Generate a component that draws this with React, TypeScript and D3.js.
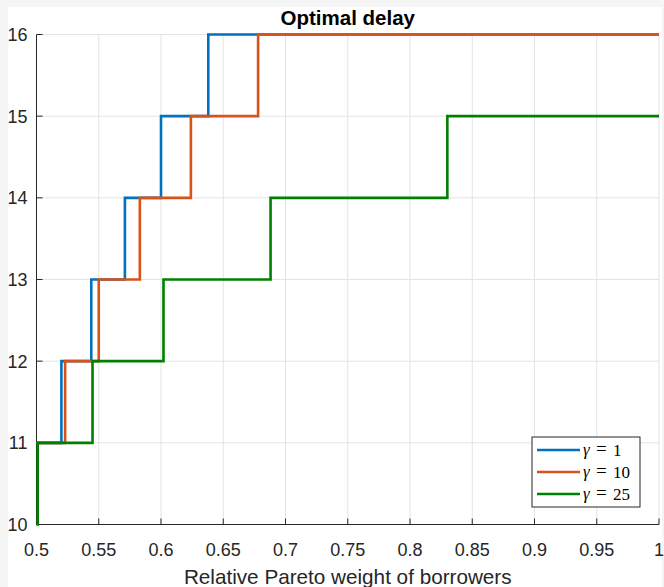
import React from "react";
import * as d3 from "d3";

// Pareto-weight breakpoints and the optimal delay reached after each one
const weights1 = [0.5, 0.52, 0.544, 0.571, 0.6, 0.638, 1.0];
const delay1 = [11, 12, 13, 14, 15, 16, 16];
const weights10 = [0.5, 0.523, 0.55, 0.583, 0.624, 0.678, 1.0];
const delay10 = [11, 12, 13, 14, 15, 16, 16];
const weights25 = [0.5, 0.501, 0.545, 0.602, 0.688, 0.83, 1.0];
const delay25 = [10, 11, 12, 13, 14, 15, 15];

const gammaLabels = ["1", "10", "25"];
const xTicks = [0.5, 0.55, 0.6, 0.65, 0.7, 0.75, 0.8, 0.85, 0.9, 0.95, 1];
const yTicks = [10, 11, 12, 13, 14, 15, 16];

const W = 664;
const H = 587;
const left = 36.5;
const right = 659;
const top = 34.5;
const bottom = 524.5;

const colors = ["#0072BD", "#D95319", "#008000"];
const axisColor = "#262626";
const gridColor = "#e3e3e3";
const sans = "Arial, 'Liberation Sans', Helvetica, sans-serif";
const serif = "'Liberation Serif', 'DejaVu Serif', serif";

export default function App() {
  const x = d3.scaleLinear().domain([0.5, 1]).range([left, right]);
  const y = d3.scaleLinear().domain([10, 16]).range([bottom, top]);

  const line = d3
    .line<[number, number]>()
    .x((d) => x(d[0]))
    .y((d) => y(d[1]))
    .curve(d3.curveStepAfter);

  const series = [
    d3.zip(weights1, delay1) as [number, number][],
    d3.zip(weights10, delay10) as [number, number][],
    d3.zip(weights25, delay25) as [number, number][],
  ];

  const fmt = (v: number) => (v === 1 ? "1" : String(+v.toFixed(2)));

  const legX = 532;
  const legY = 437;
  const legW = 108;
  const legH = 70;

  return (
    <svg
      width={W}
      height={H}
      style={{ position: "absolute", left: 0, top: 0, display: "block" }}
    >
      <rect x={0} y={0} width={W} height={H} fill="#f5f5f5" />
      <rect x={8} y={7} width={W - 10} height={H - 7} fill="#ffffff" />

      {/* grid */}
      <g stroke={gridColor} strokeWidth={1}>
        {xTicks.map((t) => (
          <line key={"gx" + t} x1={x(t)} x2={x(t)} y1={top} y2={bottom} />
        ))}
        {yTicks.map((t) => (
          <line key={"gy" + t} x1={left} x2={right} y1={y(t)} y2={y(t)} />
        ))}
      </g>

      {/* axes */}
      <g stroke={axisColor} strokeWidth={1}>
        <line x1={left} x2={left} y1={top} y2={bottom} />
        <line x1={left} x2={right} y1={bottom} y2={bottom} />
        {xTicks.map((t) => (
          <line key={"tx" + t} x1={x(t)} x2={x(t)} y1={bottom} y2={bottom - 6} />
        ))}
        {yTicks.map((t) => (
          <line key={"ty" + t} x1={left} x2={left + 6} y1={y(t)} y2={y(t)} />
        ))}
      </g>

      <g fontFamily={sans} fontSize={18} fill={axisColor}>
        {xTicks.map((t) => (
          <text key={"lx" + t} x={x(t)} y={bottom + 31} textAnchor="middle">
            {fmt(t)}
          </text>
        ))}
        {yTicks.map((t) => (
          <text key={"ly" + t} x={left - 9} y={y(t) + 6.5} textAnchor="end">
            {t}
          </text>
        ))}
      </g>

      {/* step lines */}
      <g fill="none" strokeWidth={2.6} strokeLinejoin="miter">
        {series.map((s, i) => (
          <path key={"s" + i} d={line(s) ?? ""} stroke={colors[i]} />
        ))}
      </g>

      <text
        x={(left + right) / 2}
        y={25}
        textAnchor="middle"
        fontFamily={sans}
        fontWeight="bold"
        fontSize={20.5}
        fill="#000"
      >
        Optimal delay
      </text>

      <text
        x={(left + right) / 2}
        y={584}
        textAnchor="middle"
        fontFamily={sans}
        fontSize={20.7}
        fill={axisColor}
      >
        Relative Pareto weight of borrowers
      </text>

      {/* legend */}
      <g>
        <rect
          x={legX}
          y={legY}
          width={legW}
          height={legH}
          fill="#fff"
          stroke={axisColor}
          strokeWidth={1}
        />
        {gammaLabels.map((g, i) => {
          const ly = legY + 13 + i * 22;
          return (
            <g key={"lg" + g} fontFamily={serif} fontSize={17} fill="#000">
              <line
                x1={legX + 5}
                x2={legX + 48}
                y1={ly}
                y2={ly}
                stroke={colors[i]}
                strokeWidth={2.6}
              />
              <text x={legX + 51} y={ly + 5} fontStyle="italic">
                γ
              </text>
              <text x={legX + 64} y={ly + 5} fontSize={19}>
                =
              </text>
              <text x={legX + 81} y={ly + 5.5}>
                {g}
              </text>
            </g>
          );
        })}
      </g>
    </svg>
  );
}
